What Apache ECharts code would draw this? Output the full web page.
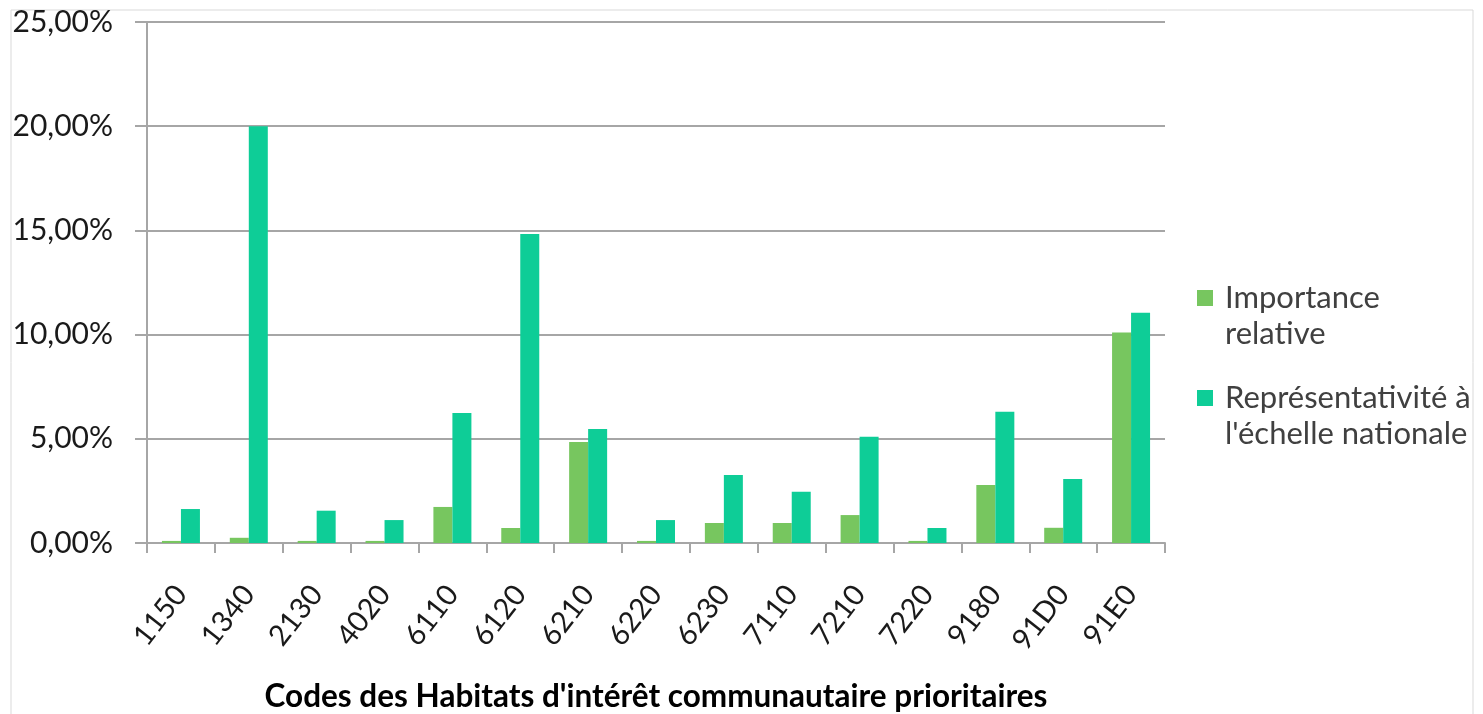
<!DOCTYPE html>
<html>
<head>
<meta charset="utf-8">
<script src="https://cdn.jsdelivr.net/npm/echarts@6/dist/echarts.min.js"></script>
<style>
  html, body { margin: 0; padding: 0; background: #fff; }
  #chart { width: 1483px; height: 714px; }
</style>
</head>
<body>
<div id="chart"></div>
<script>
// codes des habitats
const categories = ["1150", "1340", "2130", "4020", "6110", "6120", "6210", "6220", "6230", "7110", "7210", "7220", "9180", "91D0", "91E0"];
// valeurs en %
const importanceRelative = [0.1, 0.25, 0.1, 0.1, 1.73, 0.72, 4.85, 0.1, 0.96, 0.96, 1.34, 0.1, 2.78, 0.73, 10.1];
const representativite = [1.63, 20.0, 1.55, 1.1, 6.24, 14.83, 5.47, 1.1, 3.26, 2.46, 5.1, 0.72, 6.3, 3.07, 11.05];
const yTicks = [0, 5, 10, 15, 20, 25];

const seriesNames = ["Importance\nrelative", "Représentativité à\nl'échelle nationale"];
const font = "Lato, 'Open Sans', sans-serif";

let myChart = echarts.init(document.getElementById("chart"));

function fmtPct(v) {
  return v.toFixed(2).replace(".", ",") + "%";
}

// icone carrée alignée sur la première ligne du texte (les points invisibles fixent la boîte)
const topSquare = "path://M0,0h0.01v0.01h-0.01z M0,10h16v16h-16z M23,72h0.01v0.01h-0.01z";

let option = {
  animation: false,
  textStyle: { fontFamily: font },
  graphic: [
    {
      type: "rect",
      shape: { x: 11, y: 10, width: 1462, height: 710 },
      style: { fill: "none", stroke: "#d9d9d9", lineWidth: 1 },
      silent: true,
    },
  ],
  legend: {
    orient: "vertical",
    left: 1192,
    top: 275,
    itemGap: 28,
    itemWidth: 23,
    itemHeight: 72,
    icon: topSquare,
    data: seriesNames,
    textStyle: { fontSize: 31, color: "#404040", lineHeight: 36, fontFamily: font },
  },
  grid: {
    left: 147,
    right: 318,
    top: 22,
    bottom: 171,
    outerBoundsMode: "none",
    containLabel: false,
  },
  xAxis: {
    type: "category",
    data: categories,
    name: "Codes des Habitats d'intérêt communautaire prioritaires",
    nameLocation: "middle",
    nameGap: 138,
    nameTextStyle: { fontSize: 31.5, fontWeight: "bold", color: "#000", fontFamily: font },
    axisLine: { lineStyle: { color: "#a6a6a6", width: 2 } },
    axisTick: { show: true, length: 10, lineStyle: { color: "#a6a6a6", width: 2 } },
    axisLabel: {
      rotate: 52,
      margin: 46,
      fontSize: 29,
      color: "#1a1a1a",
      interval: 0,
      fontFamily: font,
    },
  },
  yAxis: {
    type: "value",
    min: 0,
    max: 25,
    interval: 5,
    axisLine: { show: true, lineStyle: { color: "#a6a6a6", width: 2 } },
    axisTick: { show: true, length: 12, lineStyle: { color: "#a6a6a6", width: 2 } },
    splitLine: { lineStyle: { color: "#a6a6a6", width: 2 } },
    axisLabel: {
      formatter: fmtPct,
      fontSize: 30,
      color: "#1a1a1a",
      margin: 34,
      fontFamily: font,
      customValues: yTicks,
    },
  },
  series: [
    {
      name: seriesNames[0],
      type: "bar",
      data: importanceRelative,
      barWidth: 19,
      barGap: "0%",
      itemStyle: { color: "#77c65f" },
    },
    {
      name: seriesNames[1],
      type: "bar",
      data: representativite,
      barWidth: 19,
      barGap: "0%",
      itemStyle: { color: "#0ecd97" },
    },
  ],
};

myChart.setOption(option);
</script>
</body>
</html>
